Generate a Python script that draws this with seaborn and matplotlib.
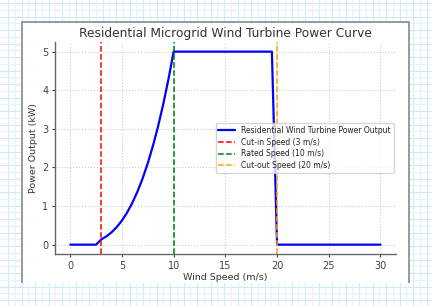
import matplotlib
matplotlib.use("Agg")
import matplotlib.pyplot as plt
import seaborn as sns
import pandas as pd
from matplotlib.patches import Rectangle

# ---- data ----
wind_speed = [0.0, 2.5, 3.0, 3.5, 4.0, 4.5, 5.0, 5.5, 6.0, 6.5, 7.0, 7.5, 8.0,
              8.5, 9.0, 9.5, 10.0, 19.5, 20.0, 30.0]
power_kw = [0.0, 0.0, 0.135, 0.214, 0.32, 0.456, 0.625, 0.832, 1.08, 1.373,
            1.715, 2.109, 2.56, 3.071, 3.645, 4.287, 5.0, 5.0, 0.0, 0.0]
cut_in = 3
rated = 10
cut_out = 20
x_ticks = [0, 5, 10, 15, 20, 25, 30]
y_ticks = [0, 1, 2, 3, 4, 5]

sns.set_style("whitegrid", {"grid.linestyle": ":", "grid.color": "#cccccc",
                            "axes.edgecolor": "#666666",
                            "xtick.bottom": True, "ytick.left": True})
plt.rcParams["font.family"] = ["DejaVu Sans"]
plt.rcParams["xtick.major.size"] = 2.5
plt.rcParams["ytick.major.size"] = 2.5
plt.rcParams["xtick.color"] = "#444444"
plt.rcParams["ytick.color"] = "#444444"

W, H = 432, 306
fig = plt.figure(figsize=(W / 100, H / 100), dpi=100)
fig.patch.set_facecolor("white")

# graph-paper background
bg = fig.add_axes([0, 0, 1, 1], zorder=-5)
bg.set_xlim(0, W)
bg.set_ylim(H, 0)
bg.axis("off")
step = 13.5
k = 0
x = 8.0
while x < W:
    bg.axvline(x, color="#d3eaf6" if k % 2 == 0 else "#e6f3fa", lw=0.8)
    x += step / 2
    k += 1
k = 0
y = 3.0
while y < H:
    bg.axhline(y, color="#d3eaf6" if k % 2 == 0 else "#e6f3fa", lw=0.8)
    y += step / 2
    k += 1
bg.add_patch(Rectangle((21.5, 22), 409 - 21.5, 283 - 22, facecolor="white",
                       edgecolor="none", zorder=3))
bg.plot([21.5, 21.5, 409, 409], [283, 22, 22, 283], color="#888888", lw=1.2,
        zorder=4, solid_capstyle="butt")

ax = fig.add_axes([54.7 / W, 1 - 254.3 / H, (396 - 54.7) / W, (254.3 - 42) / H])
df = pd.DataFrame({"Wind Speed (m/s)": wind_speed, "Power Output (kW)": power_kw})
sns.lineplot(data=df, x="Wind Speed (m/s)", y="Power Output (kW)", ax=ax,
             color="blue", lw=1.6,
             label="Residential Wind Turbine Power Output")
ax.axvline(cut_in, color="red", ls="--", lw=1.1, label=f"Cut-in Speed ({cut_in} m/s)")
ax.axvline(rated, color="green", ls="--", lw=1.1, label=f"Rated Speed ({rated} m/s)")
ax.axvline(cut_out, color="orange", ls="--", lw=1.1, label=f"Cut-out Speed ({cut_out} m/s)")

ax.set_xticks(x_ticks)
ax.set_yticks(y_ticks)
ax.tick_params(labelsize=7, pad=2)
ax.set_xlabel("Wind Speed (m/s)", fontsize=6.8, color="#333333", labelpad=2)
ax.set_ylabel("Power Output (kW)", fontsize=6.8, color="#333333", labelpad=3)
ax.set_title("Residential Microgrid Wind Turbine Power Curve", fontsize=8.8,
             color="#333333", pad=3.5)
sns.despine(ax=ax)
for s in ["left", "bottom"]:
    ax.spines[s].set_linewidth(1.0)
leg = ax.legend(loc="center right", fontsize=5.5, frameon=True, framealpha=0.8,
                edgecolor="#cccccc", borderaxespad=0.3, handlelength=2.2,
                labelspacing=0.35, borderpad=0.35)
fig.savefig("out.png", dpi=100)
